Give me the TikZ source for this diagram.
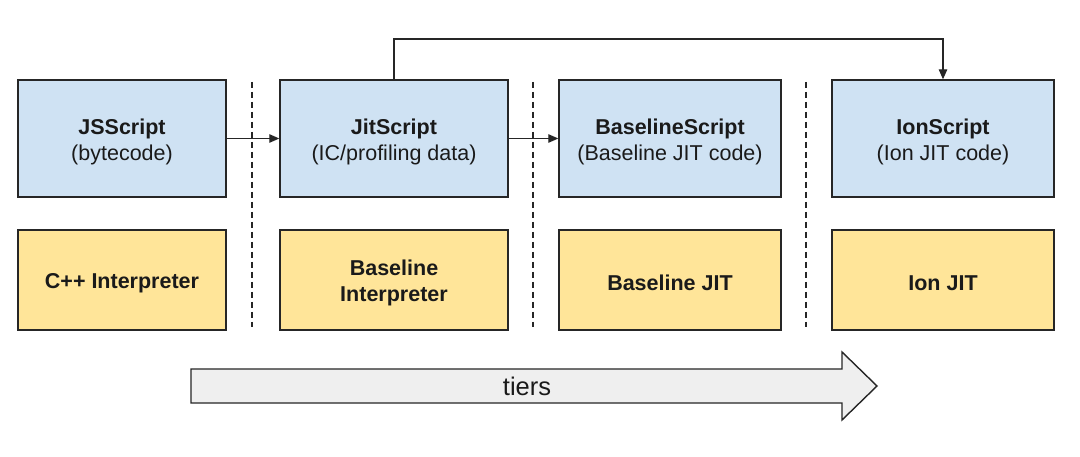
\documentclass[tikz,border=0pt]{standalone}
\usepackage{fontspec}
\setmainfont{Liberation Sans}
\usetikzlibrary{arrows.meta}
\definecolor{bluefill}{HTML}{CFE2F3}
\definecolor{yellowfill}{HTML}{FFE599}
\definecolor{arrowfill}{HTML}{EFEFEF}
\definecolor{edge}{HTML}{262626}
\definecolor{txt}{HTML}{1A1A1A}
\newcommand{\bstrut}{\rule{0pt}{22pt}}
\newcommand{\ystrut}{\rule{0pt}{20.5pt}}
\begin{document}
\begin{tikzpicture}[x=1pt,y=-1pt,
  box/.style={draw=edge, line width=1.4pt, minimum height=117pt, inner sep=0pt,
    align=center, text=txt, font=\fontsize{21.5}{26}\selectfont},
  bluebox/.style={box, fill=bluefill},
  yellowbox/.style={box, fill=yellowfill, minimum height=100pt,
    font=\fontsize{21.5}{26}\selectfont\bfseries},
  conn/.style={draw=edge, line width=1.2pt, -{Triangle[length=10pt,width=8.5pt]}},
  divider/.style={draw=edge, line width=1.5pt, dash pattern=on 6pt off 4pt}
]
\useasboundingbox[fill=white] (0,0) rectangle (1080,457);

% blue boxes
\node[bluebox, minimum width=208pt] (js)  at (122,138.5) {\bstrut\textbf{JSScript}\\(bytecode)};
\node[bluebox, minimum width=228pt] (jit) at (394,138.5) {\bstrut\textbf{JitScript}\\(IC/profiling data)};
\node[bluebox, minimum width=222pt] (bl)  at (670,138.5) {\bstrut\textbf{BaselineScript}\\(Baseline JIT code)};
\node[bluebox, minimum width=222pt] (ion) at (943,138.5) {\bstrut\textbf{IonScript}\\(Ion JIT code)};

% yellow boxes
\node[yellowbox, minimum width=208pt] (cpp)  at (122,280) {\ystrut C++ Interpreter};
\node[yellowbox, minimum width=228pt] (bli)  at (394,280) {\ystrut Baseline\\Interpreter};
\node[yellowbox, minimum width=222pt] (bjit) at (670,280) {\ystrut Baseline JIT};
\node[yellowbox, minimum width=222pt] (ijit) at (943,280) {\ystrut Ion JIT};

% dividers
\coordinate (d1a) at (252,82);  \coordinate (d1b) at (252,327);
\coordinate (d2a) at (533,82);  \coordinate (d2b) at (533,327);
\coordinate (d3a) at (806,82);  \coordinate (d3b) at (806,327);
\draw[divider] (d1a) -- (d1b);
\draw[divider] (d2a) -- (d2b);
\draw[divider] (d3a) -- (d3b);

% connectors
\draw[conn] (js.east) -- (jit.west);
\draw[conn] (jit.east) -- (bl.west);
\coordinate (topline) at (0,39);
\draw[conn] (jit.north) -- (jit.north |- topline) -- (ion.north |- topline) -- (ion.north);

% tiers arrow
\draw[draw=edge, line width=1.4pt, fill=arrowfill, line join=miter]
  (191,369) -- (842,369) -- (842,352) -- (877,386) -- (842,420) -- (842,403) -- (191,403) -- cycle;
\node[text=txt, font=\fontsize{25.5}{30}\selectfont] (tiers) at (527,386) {tiers};
\end{tikzpicture}
\end{document}
